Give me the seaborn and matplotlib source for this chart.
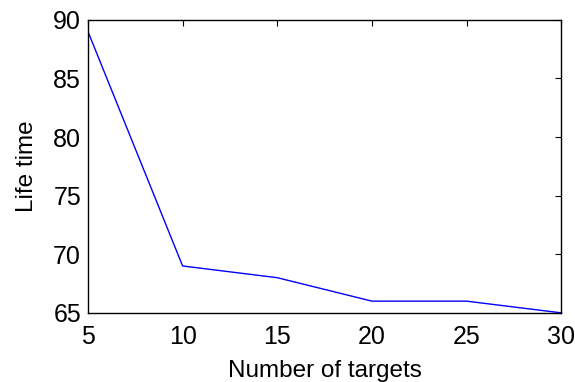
import matplotlib
matplotlib.use("Agg")
import matplotlib.pyplot as plt
import pandas as pd
import seaborn as sns

# values
targets = [5, 10, 15, 20, 25, 30]
life_time = [89, 69, 68, 66, 66, 65]
x_ticks = [5, 10, 15, 20, 25, 30]
y_ticks = [65, 70, 75, 80, 85, 90]

sns.set_theme(style="white")
plt.rcParams.update(
    {
        "font.family": ["Liberation Sans", "DejaVu Sans"],
        "xtick.direction": "in",
        "ytick.direction": "in",
        "xtick.top": True,
        "ytick.right": True,
        "xtick.major.size": 4,
        "ytick.major.size": 4,
    }
)

df = pd.DataFrame({"targets": targets, "life_time": life_time})

fig = plt.figure(figsize=(5.75, 3.82), dpi=100)
ax = fig.add_axes([0.153, 0.181, 0.823, 0.767])

sns.lineplot(data=df, x="targets", y="life_time", color="#0000ff", linewidth=1.0, ax=ax)

ax.set_xlim(5, 30)
ax.set_ylim(65, 90)
ax.set_xticks(x_ticks)
ax.set_yticks(y_ticks)
ax.tick_params(axis="both", which="major", labelsize=18, colors="black", width=0.8)
ax.tick_params(axis="x", pad=8.5)
ax.tick_params(axis="y", pad=5)
ax.tick_params(top=True, right=True, direction="in")
for side in ax.spines.values():
    side.set_visible(True)
    side.set_color("black")
    side.set_linewidth(1.0)

ax.set_xlabel("Number of targets", fontsize=17.5, color="black", labelpad=8)
ax.set_ylabel("Life time", fontsize=17.5, color="black", labelpad=11)

fig.savefig("out.png", dpi=100)
